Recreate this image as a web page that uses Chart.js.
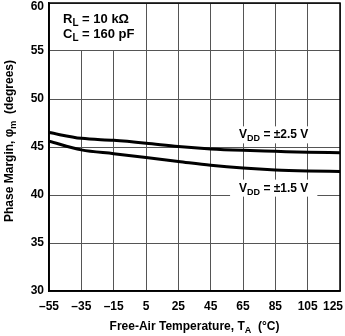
<!DOCTYPE html>
<html>
<head>
<meta charset="utf-8">
<script src="https://cdn.jsdelivr.net/npm/chart.js"></script>
<style>
  html, body { margin: 0; padding: 0; background: #fff; }
  #wrap { width: 345px; height: 336px; }
</style>
</head>
<body>
<div id="wrap"><canvas id="chart" width="345" height="336"></canvas></div>
<script>
// Datos
const temps = [-55, -35, -15, 5, 25, 45, 65, 85, 105, 125];
const pmVdd25 = [46.5, 45.9, 45.7, 45.4, 45.05, 44.8, 44.65, 44.55, 44.45, 44.4];
const pmVdd15 = [45.6, 44.7, 44.3, 43.9, 43.5, 43.1, 42.8, 42.6, 42.5, 42.45];
const xTicks = [-55, -35, -15, 5, 25, 45, 65, 85, 105, 125];
const yTicks = [30, 35, 40, 45, 50, 55, 60];

const FONT = '"Liberation Sans", Arial, Helvetica, sans-serif';
const TICK_FONT = 'bold 12px ' + FONT;

// Texto con subindices: partes [{t, sub}]
function richWidth(ctx, parts, size) {
  let w = 0;
  parts.forEach(p => {
    ctx.font = 'bold ' + (p.sub ? size - 3 : size) + 'px ' + FONT;
    w += ctx.measureText(p.t).width;
  });
  return w;
}

function drawRich(ctx, parts, x, y, size, align) {
  const w = richWidth(ctx, parts, size);
  let cx = align === 'center' ? x - w / 2 : (align === 'right' ? x - w : x);
  ctx.textAlign = 'left';
  ctx.textBaseline = 'alphabetic';
  parts.forEach(p => {
    ctx.font = 'bold ' + (p.sub ? size - 3 : size) + 'px ' + FONT;
    ctx.fillText(p.t, cx, y + (p.sub ? 3 : 0));
    cx += ctx.measureText(p.t).width;
  });
  return w;
}

const labelsPlugin = {
  id: 'labels',
  afterDraw(chart) {
    const ctx = chart.ctx;
    const area = chart.chartArea;
    const xs = chart.scales.x, ys = chart.scales.y;
    ctx.save();

    // etiquetas de los ejes (se ajustan para no salir del lienzo)
    ctx.fillStyle = '#000';
    ctx.font = TICK_FONT;
    ctx.textBaseline = 'middle';
    ctx.textAlign = 'right';
    yTicks.forEach(v => {
      const py = Math.max(ys.getPixelForValue(v), area.top + 4);
      ctx.fillText(String(v), area.left - 5, py);
    });
    ctx.textAlign = 'center';
    xTicks.forEach(v => {
      const txt = String(v).replace('-', '\u2013');
      const w = ctx.measureText(txt).width;
      const px = Math.min(xs.getPixelForValue(v), chart.width - w / 2 - 2);
      ctx.fillText(txt, px, area.bottom + 16);
    });

    // condiciones de prueba (con fondo blanco sobre la rejilla)
    ctx.fillStyle = '#fff';
    ctx.fillRect(area.left + 1, area.top + 1, xs.getPixelForValue(5) - area.left - 6, ys.getPixelForValue(55) - area.top - 2);
    ctx.fillStyle = '#000';
    drawRich(ctx, [{t: 'R'}, {t: 'L', sub: true}, {t: ' = 10 k\u03A9'}], area.left + 14, 23, 13, 'left');
    drawRich(ctx, [{t: 'C'}, {t: 'L', sub: true}, {t: ' = 160 pF'}], area.left + 14, 38, 13, 'left');

    // etiquetas de curvas con fondo blanco
    const curveLabels = [
      { parts: [{t: 'V'}, {t: 'DD', sub: true}, {t: ' = \u00B12.5 V'}], x: 84, y: 45.9 },
      { parts: [{t: 'V'}, {t: 'DD', sub: true}, {t: ' = \u00B11.5 V'}], x: 84, y: 40.35 }
    ];
    curveLabels.forEach(l => {
      const px = xs.getPixelForValue(l.x);
      const py = ys.getPixelForValue(l.y);
      const w = richWidth(ctx, l.parts, 12);
      ctx.fillStyle = '#fff';
      ctx.fillRect(px - w / 2 - 9, py - 12, w + 18, 17);
      ctx.fillStyle = '#000';
      drawRich(ctx, l.parts, px, py, 12, 'center');
    });

    // titulo eje x
    drawRich(ctx, [{t: 'Free-Air Temperature, T'}, {t: 'A', sub: true}, {t: '  (\u00B0C)'}],
      (area.left + area.right) / 2, 330, 12, 'center');

    // titulo eje y
    ctx.translate(13, (area.top + area.bottom) / 2 - 6);
    ctx.rotate(-Math.PI / 2);
    drawRich(ctx, [{t: 'Phase Margin, \u03C6'}, {t: 'm', sub: true}, {t: '  (degrees)'}], 0, 0, 12, 'center');
    ctx.restore();
  }
};

new Chart(document.getElementById('chart'), {
  type: 'line',
  data: {
    datasets: [
      {
        label: 'VDD = ±2.5 V',
        data: temps.map((t, i) => ({ x: t, y: pmVdd25[i] })),
        borderColor: '#000',
        borderWidth: 3,
        pointRadius: 0,
        cubicInterpolationMode: 'monotone',
        fill: false
      },
      {
        label: 'VDD = ±1.5 V',
        data: temps.map((t, i) => ({ x: t, y: pmVdd15[i] })),
        borderColor: '#000',
        borderWidth: 3,
        pointRadius: 0,
        cubicInterpolationMode: 'monotone',
        fill: false
      }
    ]
  },
  options: {
    responsive: false,
    animation: false,
    devicePixelRatio: 1,
    layout: { padding: { top: 3, right: 5, left: 0, bottom: 0 } },
    plugins: { legend: { display: false }, tooltip: { enabled: false } },
    scales: {
      x: {
        type: 'linear',
        min: -55,
        max: 125,
        afterBuildTicks: s => { s.ticks = xTicks.map(v => ({ value: v })); },
        afterFit: s => { s.height = 45; s.paddingLeft = 0; s.paddingRight = 0; },
        grid: { color: '#555', lineWidth: 1, drawTicks: false },
        border: { color: '#000', width: 1.5 },
        ticks: { display: false }
      },
      y: {
        min: 30,
        max: 60,
        afterBuildTicks: s => { s.ticks = yTicks.map(v => ({ value: v })); },
        afterFit: s => { s.width = 49; s.paddingTop = 0; s.paddingBottom = 0; },
        grid: { color: '#555', lineWidth: 1, drawTicks: false },
        border: { color: '#000', width: 1.5 },
        ticks: { display: false }
      }
    }
  },
  plugins: [labelsPlugin, {
    id: 'frame',
    afterDatasetsDraw(chart) {
      const { ctx, chartArea: a } = chart;
      ctx.save();
      ctx.strokeStyle = '#000';
      ctx.lineWidth = 1.5;
      ctx.strokeRect(a.left, a.top, a.right - a.left, a.bottom - a.top);
      ctx.restore();
    }
  }]
});
</script>
</body>
</html>
